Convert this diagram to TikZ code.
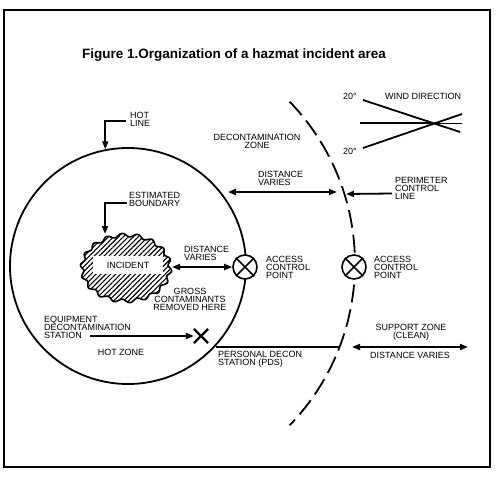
\documentclass[tikz,border=0pt]{standalone}
\usepackage{fontspec}
\setmainfont{Liberation Sans}
\usetikzlibrary{arrows.meta, positioning, calc, patterns.meta, shapes.misc}

\begin{document}
\begin{tikzpicture}[
    x=1pt, y=-1pt,
    lbl_text/.style={font=\fontsize{9}{8}\selectfont, align=left, inner sep=0pt},
    arrow_line/.style={-{Triangle[length=8pt, width=6pt]}, line width=1.8pt},
    both_arrow/.style={{Triangle[length=8pt, width=6pt]}-{Triangle[length=8pt, width=6pt]}, line width=1.8pt},
    acp_node/.style={circle, draw, fill=white, line width=1.6pt, minimum size=24pt, inner sep=0pt},
    zone_line/.style={line width=1.8pt}
  ]
    \useasboundingbox (0,0) rectangle (498,479);
    \draw[line width=2pt] (4,9.5) rectangle (489.5,467);

    \node[font=\bfseries\fontsize{13.5}{14}\selectfont] (title) at (234,55) {Figure 1.Organization of a hazmat incident area};

    % zones
    \node[circle, draw, zone_line, minimum size=236pt, inner sep=0pt] (hot) at (128,266) {};
    \coordinate (pc) at (122,263.5);
    \draw[zone_line, dash pattern=on 18pt off 7pt] ([shift={(44:233pt)}]pc) arc[start angle=44, end angle=-44, radius=233pt];

    % incident
    \draw[line width=1.6pt, pattern={Lines[angle=45, distance=3.5pt, line width=1.1pt]}]
      plot[smooth cycle, domain=0:357.5, samples=144] ({126+(44+1.8*sin(18*\x))*cos(\x)}, {268+(33+1.8*sin(18*\x))*sin(\x)});
    \node[fill=white, minimum width=70pt, minimum height=18pt, font=\fontsize{9}{8}\selectfont, inner sep=0pt] (incident) at (128,265) {INCIDENT};

    \node[lbl_text, anchor=west] (hotLbl) at (130,119) {HOT\\LINE};
    \draw[arrow_line] ([xshift=-4pt, yshift=-2pt]hotLbl.west) -| (hot.101);

    \node[lbl_text, anchor=west] (estLbl) at (129,199) {ESTIMATED\\BOUNDARY};
    \coordinate (blobTop) at (105,234);
    \draw[arrow_line] ([xshift=-2pt, yshift=-4pt]estLbl.west) -| (blobTop);

    \node[acp_node] (acpA) at (245,267) {};
    \node[acp_node] (acpB) at (354,267) {};
    \foreach \n in {acpA, acpB} {
      \draw[line width=1.6pt] (\n.north west) -- (\n.south east) (\n.north east) -- (\n.south west);
    }
    \node[lbl_text, right=8pt of acpA] (acpAtxt) {ACCESS\\CONTROL\\POINT};
    \node[lbl_text, right=7pt of acpB] (acpBtxt) {ACCESS\\CONTROL\\POINT};

    \node[lbl_text, anchor=west] (distIn) at (184,253) {DISTANCE\\VARIES};
    \coordinate (blobRight) at (172,267);
    \draw[both_arrow] (blobRight) -- (acpA.west);

    \node[lbl_text, align=center] (gross) at (190,299.5) {GROSS\\CONTAMINANTS\\REMOVED HERE};

    \node[lbl_text, anchor=west] (equip) at (44,327) {EQUIPMENT\\DECONTAMINATION\\STATION};
    \node[cross out, draw, line width=2.2pt, minimum size=12pt, inner sep=0pt] (eds) at (201,336) {};
    \coordinate (eqStart) at (90,336);
    \draw[arrow_line] (eqStart) -- (eds.west);

    \node[lbl_text] (hotZone) at (121,352) {HOT ZONE};

    \coordinate (pdsL) at (216,347);
    \coordinate (pdsR) at (340,347);
    \draw[line width=1.2pt] (pdsL) -- (pdsR);
    \node[lbl_text, anchor=west] (pds) at (218,359.5) {PERSONAL DECON\\STATION (PDS)};

    \node[lbl_text, align=center] (support) at (411,332) {SUPPORT ZONE\\(CLEAN)};
    \node[lbl_text] (distOut) at (410,355) {DISTANCE VARIES};
    \coordinate (supL) at (352,347);
    \coordinate (supR) at (468,347);
    \draw[both_arrow] (supL) -- (supR);

    \node[lbl_text, align=center] (deconZone) at (257,141) {DECONTAMINATION\\ZONE};

    \node[lbl_text, anchor=west] (distTop) at (258,178) {DISTANCE\\VARIES};
    \coordinate (dtL) at (228,192);
    \coordinate (dtR) at (337,192);
    \draw[both_arrow] (dtL) -- (dtR);

    \node[lbl_text, anchor=west] (perim) at (395,188.5) {PERIMETER\\CONTROL\\LINE};
    \coordinate (pclPt) at (346,194);
    \draw[arrow_line] ([xshift=-3pt, yshift=-5pt]perim.west) -- (pclPt);

    % wind
    \coordinate (windX) at (433,123);
    \draw[line width=1.8pt] (360,123) -- (windX);
    \draw[line width=1pt] (windX) -- (462,123);
    \draw[line width=1.8pt] (363,100) -- (460,132);
    \draw[line width=1.8pt] (363,148) -- (462,114);
    \node[lbl_text, anchor=west] (degUp) at (343,96) {20°};
    \node[lbl_text, anchor=west] (degDown) at (343,151) {20°};
    \node[lbl_text, anchor=west] (wind) at (385,96) {WIND DIRECTION};
\end{tikzpicture}
\end{document}
